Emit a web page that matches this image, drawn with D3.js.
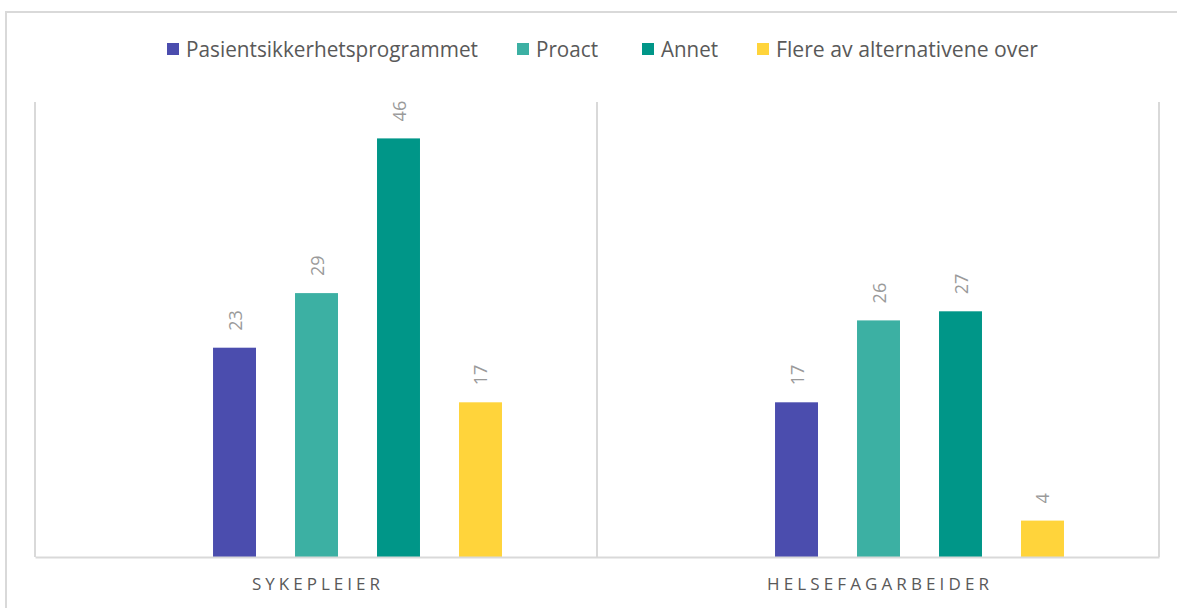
<!DOCTYPE html>
<html>
<head>
<meta charset="utf-8">
<script src="https://cdn.jsdelivr.net/npm/d3@7"></script>
<style>
  html, body { margin: 0; padding: 0; background: #fff; }
  svg { display: block; }
  text { font-family: "Open Sans", "Liberation Sans", sans-serif; }
</style>
</head>
<body>
<svg id="chart" width="1177" height="608"></svg>
<script>
// Categories (professions) and one value array per series
const categories = ["SYKEPLEIER", "HELSEFAGARBEIDER"];
const seriesNames = ["Pasientsikkerhetsprogrammet", "Proact", "Annet", "Flere av alternativene over"];
const pasientsikkerhet = [23, 17];
const proact = [29, 26];
const annet = [46, 27];
const flereAlternativer = [17, 4];
const seriesColors = ["#4B4DAE", "#3CB0A3", "#009688", "#FFD43B"];
const yMax = 50;

const seriesValues = [pasientsikkerhet, proact, annet, flereAlternativer];
const rows = categories.map((c, i) => ({
  category: c,
  values: seriesNames.map((s, j) => ({ series: s, value: seriesValues[j][i], color: seriesColors[j] }))
}));

const svg = d3.select("#chart");
const plot = { left: 35, right: 1159, top: 102, bottom: 557 };

// Outer frame
svg.append("rect")
  .attr("x", 6).attr("y", 12).attr("width", 1190).attr("height", 620)
  .attr("fill", "none").attr("stroke", "#d9d9d9").attr("stroke-width", 2);

const x0 = d3.scaleBand().domain(categories).range([plot.left, plot.right]).padding(0);
const x1 = d3.scaleBand().domain(seriesNames).range([0, x0.bandwidth()])
  .paddingInner(0.476).paddingOuter(1.665).align(0.652);
const y = d3.scaleLinear().domain([0, yMax]).range([plot.bottom, plot.top]);

// Vertical category separators
const edges = categories.map(c => x0(c)).concat([plot.right]);
svg.append("g").selectAll("line").data(edges).join("line")
  .attr("x1", d => d).attr("x2", d => d)
  .attr("y1", plot.top).attr("y2", plot.bottom)
  .attr("stroke", "#d9d9d9").attr("stroke-width", 2);

// Bars
const groups = svg.append("g").selectAll("g").data(rows).join("g")
  .attr("transform", d => `translate(${x0(d.category)},0)`);

groups.selectAll("rect").data(d => d.values).join("rect")
  .attr("x", d => x1(d.series))
  .attr("y", d => y(d.value))
  .attr("width", x1.bandwidth())
  .attr("height", d => y(0) - y(d.value))
  .attr("fill", d => d.color);

// Value labels, rotated
groups.selectAll("text").data(d => d.values).join("text")
  .attr("transform", d => `translate(${x1(d.series) + x1.bandwidth() / 2},${y(d.value) - 17}) rotate(-90)`)
  .attr("text-anchor", "start")
  .attr("dominant-baseline", "central")
  .attr("fill", "#9a9a9a")
  .attr("font-size", 18)
  .text(d => d.value);

// Baseline / x axis
const xAxis = svg.append("g").attr("transform", `translate(0,${plot.bottom})`)
  .call(d3.axisBottom(x0).tickSize(0).tickPadding(21));
xAxis.select(".domain").attr("stroke", "#d9d9d9").attr("stroke-width", 2);
xAxis.selectAll("text")
  .attr("fill", "#595959")
  .attr("font-size", 17)
  .attr("font-family", "\"Open Sans\", \"Liberation Sans\", sans-serif")
  .attr("dy", "0.71em")
  .attr("lengthAdjust", "spacing")
  .attr("textLength", d => d === "SYKEPLEIER" ? 128 : 222);

// Legend
const legendWidths = [292, 62, 57, 262];
const legendItemsX = [167, 517, 642, 757];
const legend = svg.append("g");
const items = legend.selectAll("g").data(seriesNames).join("g")
  .attr("transform", (d, i) => `translate(${legendItemsX[i]},49)`);
items.append("rect")
  .attr("x", 0).attr("y", -6).attr("width", 12).attr("height", 12)
  .attr("fill", (d, i) => seriesColors[i]);
items.append("text")
  .attr("x", 19).attr("y", 0)
  .attr("dominant-baseline", "central")
  .attr("fill", "#595959")
  .attr("font-size", 21)
  .attr("lengthAdjust", "spacingAndGlyphs")
  .attr("textLength", (d, i) => legendWidths[i])
  .text(d => d);
</script>
</body>
</html>
